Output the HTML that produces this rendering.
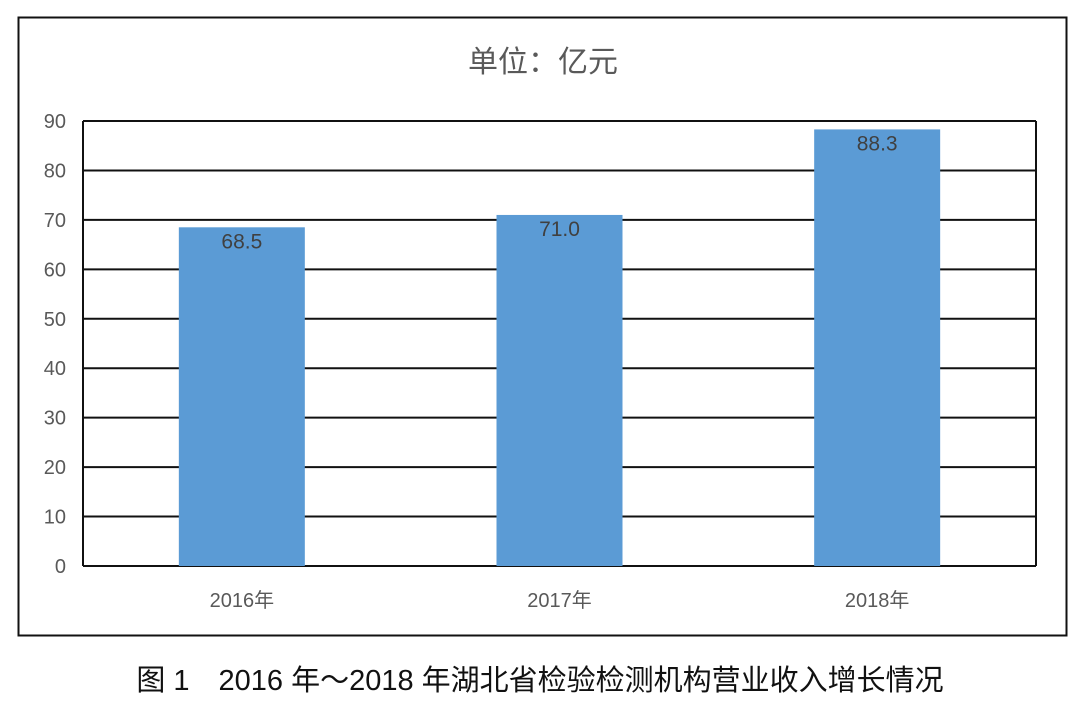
<!DOCTYPE html>
<html><head><meta charset="utf-8"><style>
body{margin:0;background:#fff;}
svg text{font-family:"Liberation Sans","Noto Sans CJK SC",sans-serif;}
</style></head><body>
<svg width="1080" height="713" viewBox="0 0 1080 713">
<rect x="18.5" y="17.5" width="1048" height="618" fill="none" stroke="#111" stroke-width="2"/>
<text x="543" y="72" text-anchor="middle" font-size="30" fill="#595959">单位：亿元</text>
<g id="grid"></g><g id="bars"></g><g id="labels"></g>
<text x="540" y="690" text-anchor="middle" font-size="29" fill="#111" font-family="'Liberation Sans','Noto Sans CJK SC',sans-serif">图 1　2016 年～2018 年湖北省检验检测机构营业收入增长情况</text>
</svg>
<script>
const categories=["2016年","2017年","2018年"];
const values=[68.5,71.0,88.3];
const valueLabels=["68.5","71.0","88.3"];
const yTicks=[0,10,20,30,40,50,60,70,80,90];
const L=83,R=1036,T=121,B=566,yMax=90;
const y=v=>B-(v/yMax)*(B-T);
const bw=(R-L)/categories.length;
const x=i=>L+bw*(i+0.5);
const NS="http://www.w3.org/2000/svg";
function mk(t,a,p){const e=document.createElementNS(NS,t);for(const k in a)e.setAttribute(k,a[k]);p.appendChild(e);return e;}
const g=document.getElementById('grid'),gb=document.getElementById('bars'),gl=document.getElementById('labels');
yTicks.forEach(t=>{
 const ln=mk('line',{x1:L,x2:R,y1:y(t),y2:y(t),stroke:'#111','stroke-width':2},g);
 
 
 const tx=mk('text',{x:66,y:y(t)+7,'text-anchor':'end','font-size':20,fill:'#595959'},g);
 tx.textContent=t;
 
 
});
const ax=mk('line',{x1:L,x2:L,y1:T,y2:B,stroke:'#111','stroke-width':2},g);


const ar=mk('line',{x1:R,x2:R,y1:T,y2:B,stroke:'#111','stroke-width':2},g);


values.forEach((v,i)=>{
 const r=mk('rect',{x:x(i)-63,y:y(v),width:126,height:B-y(v),fill:'#5b9bd5'},gb);
 
 
 const t=mk('text',{x:x(i),y:y(v)+21,'text-anchor':'middle','font-size':21,fill:'#404040'},gl);
 t.textContent=valueLabels[i];
 
 
 const c=mk('text',{x:x(i),y:607,'text-anchor':'middle','font-size':20,fill:'#595959'},gl);
 c.textContent=categories[i];
 
 
});
</script>
</body></html>
